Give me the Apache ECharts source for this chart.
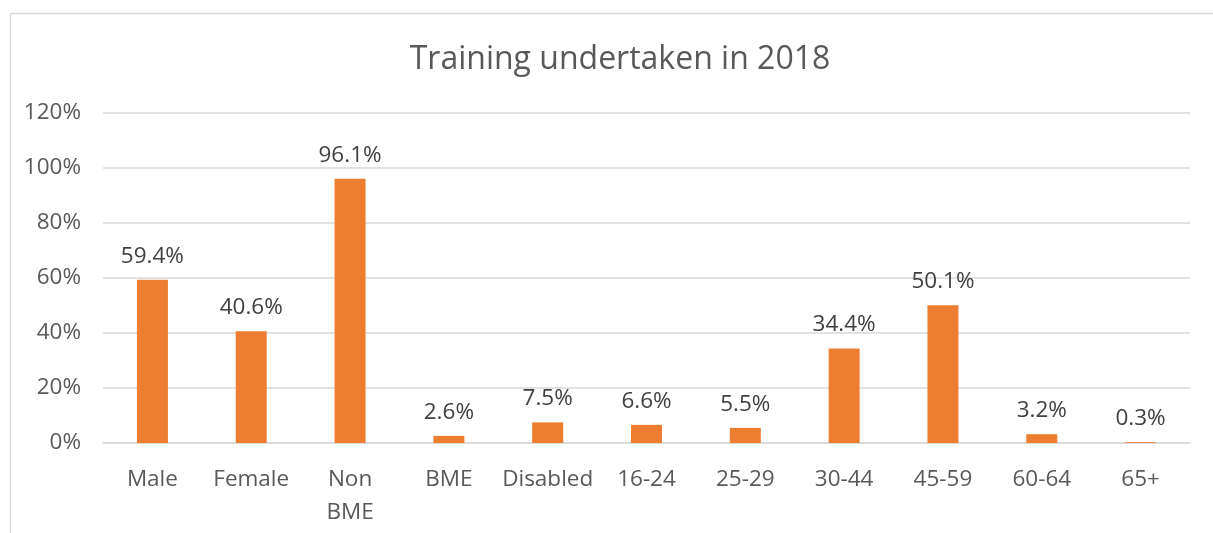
<!DOCTYPE html>
<html><head><meta charset="utf-8">
<script src="https://cdn.jsdelivr.net/npm/echarts@6/dist/echarts.min.js"></script>
<style>html,body{margin:0;padding:0;background:#fff}#c{width:1213px;height:533px}</style>
</head><body><div id="c"></div>
<script>
const categories = ['Male','Female','Non BME','BME','Disabled','16-24','25-29','30-44','45-59','60-64','65+'];
const values = [59.4, 40.6, 96.1, 2.6, 7.5, 6.6, 5.5, 34.4, 50.1, 3.2, 0.3];
const yTicks = [0, 20, 40, 60, 80, 100, 120];
const titleText = 'Training undertaken in 2018';

const FONT = '"Open Sans", sans-serif';
const chart = echarts.init(document.getElementById('c'), null, {renderer:'canvas'});
chart.setOption({
  animation: false,
  backgroundColor: '#fff',
  graphic: [{type:'rect', shape:{x:10.5, y:13.5, width:1400, height:700}, style:{fill:'none', stroke:'#d9d9d9', lineWidth:1.5}, z:-1}],
  title: {text: titleText, left: 615, top: 39, textAlign: 'center',
    textStyle: {fontFamily: FONT, fontSize: 32, fontWeight: 'normal', color: '#595959'}},
  grid: {left: 103, right: 23, top: 113, bottom: 90, containLabel: false},
  xAxis: {type: 'category', data: categories,
    axisLine: {lineStyle: {color: '#d9d9d9', width: 1.5}}, axisTick: {show: false},
    axisLabel: {fontFamily: FONT, fontSize: 22.5, color: '#595959', margin: 20, lineHeight: 33, interval: 0,
      formatter: v => v.replace(' ', '\n')}},
  yAxis: {type: 'value', min: yTicks[0], max: yTicks[yTicks.length-1], interval: 20,
    axisLine: {show: false}, axisTick: {show: false},
    splitLine: {lineStyle: {color: '#d9d9d9', width: 1.5}},
    axisLabel: {fontFamily: FONT, fontSize: 22.5, color: '#595959', margin: 22, formatter: v => v + '%'}},
  series: [{type: 'bar', data: values, barWidth: 31, itemStyle: {color: '#ED7D31'},
    label: {show: true, position: 'top', distance: 12, fontFamily: FONT, fontSize: 22.5, color: '#404040',
      formatter: p => p.value.toFixed(1) + '%'}}]
});
</script></body></html>
